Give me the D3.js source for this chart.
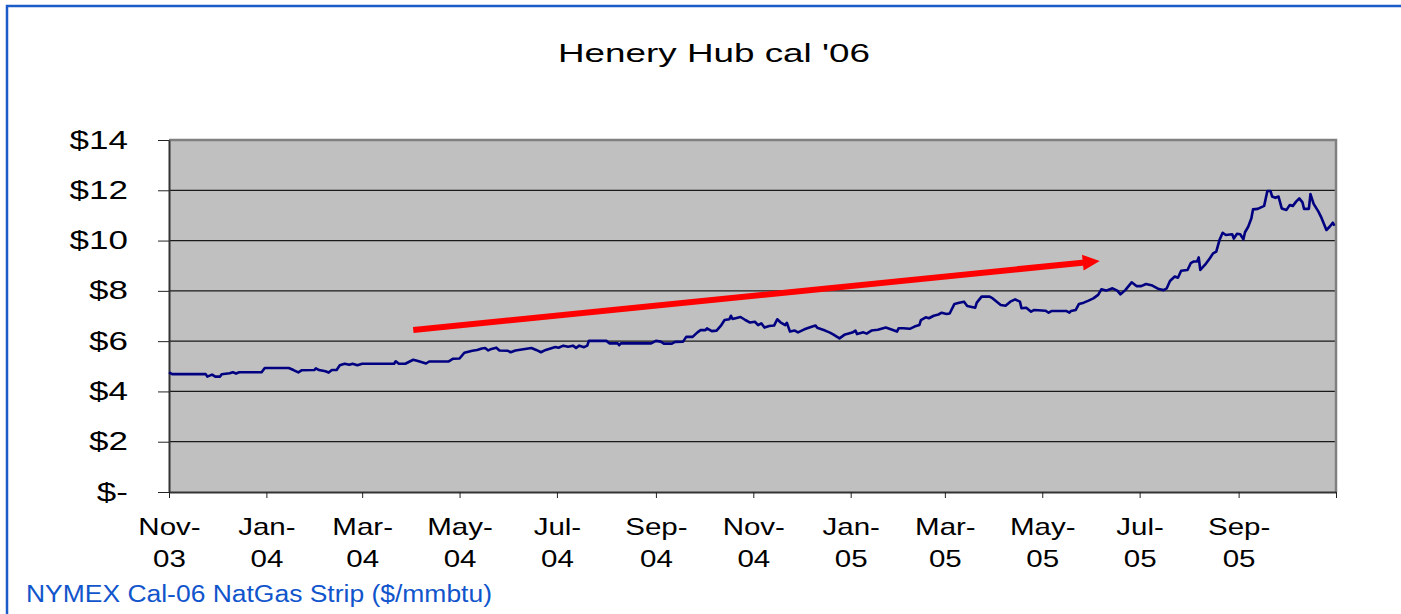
<!DOCTYPE html>
<html>
<head>
<meta charset="utf-8">
<script src="https://cdn.jsdelivr.net/npm/d3@7"></script>
<style>
  html, body { margin: 0; padding: 0; background: #fff; }
  svg { display: block; font-family: "Liberation Sans", Arial, sans-serif; }
</style>
</head>
<body>
<svg id="chart" width="1401" height="614"></svg>
<script>
// NYMEX Cal-06 strip (one row per month)
const tradeDates = [
  "2003-11-01","2003-11-03","2003-11-24","2003-11-25","2003-11-28","2003-11-30",
  "2003-12-03","2003-12-04","2003-12-09","2003-12-11","2003-12-13","2003-12-15","2003-12-29","2003-12-31",
  "2004-01-15","2004-01-18","2004-01-21","2004-01-23","2004-01-31",
  "2004-02-01","2004-02-03","2004-02-07","2004-02-09","2004-02-11","2004-02-14","2004-02-16","2004-02-19","2004-02-22","2004-02-24","2004-02-27",
  "2004-03-01","2004-03-21","2004-03-22","2004-03-24","2004-03-28",
  "2004-04-02","2004-04-06","2004-04-10","2004-04-12","2004-04-24","2004-04-27",
  "2004-05-01","2004-05-04","2004-05-09","2004-05-12","2004-05-15","2004-05-17","2004-05-19","2004-05-21","2004-05-24","2004-05-26","2004-05-31",
  "2004-06-02","2004-06-05","2004-06-15","2004-06-18","2004-06-21","2004-06-24","2004-06-30",
  "2004-07-02","2004-07-05","2004-07-08","2004-07-11","2004-07-13","2004-07-15","2004-07-18","2004-07-20","2004-07-21",
  "2004-08-01","2004-08-03","2004-08-08","2004-08-09","2004-08-10","2004-08-29",
  "2004-09-01","2004-09-04","2004-09-06","2004-09-11","2004-09-13","2004-09-18","2004-09-20","2004-09-24","2004-09-27","2004-09-29",
  "2004-10-02","2004-10-03","2004-10-06","2004-10-09","2004-10-12","2004-10-14","2004-10-17","2004-10-18","2004-10-19","2004-10-24","2004-10-27","2004-10-30",
  "2004-11-02","2004-11-04","2004-11-06","2004-11-08","2004-11-11","2004-11-14","2004-11-16","2004-11-18","2004-11-21","2004-11-22","2004-11-24","2004-11-27","2004-11-29",
  "2004-12-03","2004-12-08","2004-12-10","2004-12-11","2004-12-16","2004-12-19","2004-12-21","2004-12-25","2004-12-28",
  "2005-01-02","2005-01-04","2005-01-05","2005-01-09","2005-01-11","2005-01-14","2005-01-18","2005-01-23","2005-01-27","2005-01-30","2005-01-31",
  "2005-02-03","2005-02-07","2005-02-10","2005-02-13","2005-02-14","2005-02-17","2005-02-19","2005-02-22","2005-02-25","2005-02-27",
  "2005-03-02","2005-03-04","2005-03-07","2005-03-10","2005-03-13","2005-03-15","2005-03-20","2005-03-21","2005-03-24","2005-03-29","2005-03-31",
  "2005-04-05","2005-04-08","2005-04-11","2005-04-14","2005-04-17","2005-04-18","2005-04-21","2005-04-24","2005-04-26",
  "2005-05-03","2005-05-05","2005-05-07","2005-05-16","2005-05-18","2005-05-19","2005-05-22","2005-05-24","2005-05-27","2005-05-30",
  "2005-06-02","2005-06-05","2005-06-07","2005-06-10","2005-06-14","2005-06-17","2005-06-19","2005-06-22","2005-06-26","2005-06-29",
  "2005-07-02","2005-07-05","2005-07-09","2005-07-13","2005-07-16","2005-07-18","2005-07-20","2005-07-23","2005-07-25","2005-07-27","2005-07-31",
  "2005-08-02","2005-08-04","2005-08-06","2005-08-07","2005-08-08","2005-08-11","2005-08-14","2005-08-16","2005-08-18","2005-08-20","2005-08-22","2005-08-24","2005-08-28","2005-08-29","2005-08-31",
  "2005-09-02","2005-09-04","2005-09-05","2005-09-07","2005-09-09","2005-09-10","2005-09-13","2005-09-17","2005-09-19","2005-09-21","2005-09-22","2005-09-24","2005-09-26","2005-09-28",
  "2005-10-01","2005-10-03","2005-10-05","2005-10-07","2005-10-09","2005-10-11","2005-10-12","2005-10-15","2005-10-16","2005-10-18","2005-10-21","2005-10-23","2005-10-26","2005-10-28","2005-10-30","2005-10-31"
];

const stripPrices = [
  4.76, 4.69, 4.69, 4.59, 4.67, 4.59,
  4.59, 4.68, 4.72, 4.76, 4.71, 4.76, 4.76, 4.93,
  4.93, 4.85, 4.76, 4.84, 4.85,
  4.92, 4.85, 4.80, 4.75, 4.85, 4.85, 5.04, 5.10, 5.06, 5.10, 5.04,
  5.10, 5.10, 5.20, 5.10, 5.10,
  5.26, 5.19, 5.11, 5.19, 5.19, 5.30,
  5.31, 5.54, 5.62, 5.65, 5.71, 5.73, 5.63, 5.69, 5.74, 5.63, 5.62,
  5.56, 5.63, 5.73, 5.65, 5.56, 5.65, 5.77,
  5.74, 5.82, 5.78, 5.82, 5.73, 5.82, 5.76, 5.82, 6.01,
  6.01, 5.91, 5.91, 5.84, 5.91, 5.91,
  6.01, 5.98, 5.90, 5.90, 5.97, 5.98, 6.17, 6.17, 6.35, 6.44,
  6.44, 6.51, 6.40, 6.42, 6.64, 6.84, 6.87, 7.01, 6.88, 6.96, 6.84, 6.74,
  6.77, 6.64, 6.71, 6.54, 6.60, 6.62, 6.87, 6.75, 6.64, 6.73, 6.38, 6.42, 6.35,
  6.47, 6.58, 6.62, 6.53, 6.42, 6.34, 6.27, 6.11, 6.25,
  6.34, 6.42, 6.28, 6.35, 6.30, 6.42, 6.45, 6.54, 6.45, 6.38, 6.51,
  6.51, 6.49, 6.58, 6.64, 6.84, 6.95, 6.91, 7.01, 7.06, 7.13,
  7.08, 7.10, 7.48, 7.53, 7.57, 7.40, 7.33, 7.53, 7.77, 7.77, 7.70,
  7.44, 7.41, 7.57, 7.66, 7.57, 7.31, 7.33, 7.17, 7.24,
  7.21, 7.13, 7.20, 7.20, 7.13, 7.20, 7.24, 7.48, 7.53, 7.61,
  7.70, 7.84, 8.06, 8.01, 8.10, 8.01, 7.86, 8.03, 8.34, 8.19,
  8.19, 8.27, 8.21, 8.07, 8.03, 8.10, 8.39, 8.57, 8.52, 8.80, 8.83,
  9.10, 9.17, 9.17, 9.33, 8.83, 9.04, 9.30, 9.49, 9.56, 10.02, 10.31, 10.22, 10.25, 10.08, 10.27,
  10.25, 10.05, 10.33, 10.55, 10.89, 11.24, 11.26, 11.38, 11.97, 11.97, 11.75, 11.70, 11.75, 11.28,
  11.22, 11.41, 11.38, 11.55, 11.68, 11.52, 11.26, 11.26, 11.85, 11.46, 11.15, 10.89, 10.42, 10.55, 10.71, 10.59
];

const yTicks = [0, 2, 4, 6, 8, 10, 12, 14];
const xTickDates = ["2003-11-01","2004-01-01","2004-03-01","2004-05-01","2004-07-01","2004-09-01",
  "2004-11-01","2005-01-01","2005-03-01","2005-05-01","2005-07-01","2005-09-01","2005-11-01"];

// trend arrow, drawn in data space
const arrowDates = ["2004-04-02", "2005-06-06"];
const arrowValues = [6.44, 9.19];

const chartTitle = "Henery Hub cal '06";
const footnote = "NYMEX Cal-06 NatGas Strip ($/mmbtu)";

const parse = d3.timeParse("%Y-%m-%d");
const data = tradeDates.map((d, i) => ({date: parse(d), v: stripPrices[i]}));

const svg = d3.select("#chart");
const plot = {left: 169, right: 1336, top: 140, bottom: 492};

const x = d3.scaleTime()
  .domain([parse(xTickDates[0]), parse(xTickDates[xTickDates.length - 1])])
  .range([plot.left, plot.right]);
const y = d3.scaleLinear().domain([0, 14]).range([plot.bottom, plot.top]);

// outer frame (only top and left edges show)
svg.append("path")
  .attr("d", `M7,614 V6 H1401`)
  .attr("fill", "none")
  .attr("stroke", "#1c5cc8")
  .attr("stroke-width", 2.5);

// title
svg.append("text")
  .attr("x", 714).attr("y", 62)
  .attr("text-anchor", "middle")
  .attr("font-size", 25)
  .attr("textLength", 312)
  .attr("lengthAdjust", "spacingAndGlyphs")
  .text(chartTitle);

// plot background
svg.append("rect")
  .attr("x", plot.left).attr("y", plot.top)
  .attr("width", plot.right - plot.left).attr("height", plot.bottom - plot.top)
  .attr("fill", "#c0c0c0");

// gridlines
svg.append("g")
  .selectAll("line")
  .data(yTicks.filter(t => t > 0 && t < 14))
  .join("line")
  .attr("x1", plot.left).attr("x2", plot.right)
  .attr("y1", d => y(d)).attr("y2", d => y(d))
  .attr("stroke", "#1a1a1a")
  .attr("stroke-width", 1.2);

// grey top/right border of plot area
svg.append("path")
  .attr("d", `M${plot.left},${plot.top} H${plot.right} V${plot.bottom}`)
  .attr("fill", "none")
  .attr("stroke", "#808080")
  .attr("stroke-width", 2.5);

// y axis
const yAxis = svg.append("g")
  .attr("transform", `translate(${plot.left},0)`)
  .call(d3.axisLeft(y).tickValues(yTicks).tickSize(11).tickSizeOuter(0)
    .tickFormat(d => d === 0 ? "$-" : "$" + d));
yAxis.select(".domain").attr("stroke", "#333").attr("stroke-width", 2);
yAxis.selectAll(".tick line").attr("stroke", "#222");
yAxis.selectAll(".tick text")
  .attr("x", null)
  .attr("transform", "translate(-41,0) scale(1.4,1)")
  .attr("font-size", 25)
  .attr("fill", "#000");

// x axis with two-line month labels
const xAxis = svg.append("g")
  .attr("transform", `translate(0,${plot.bottom})`)
  .call(d3.axisBottom(x).tickValues(xTickDates.map(parse)).tickSize(6).tickSizeOuter(0).tickFormat(""));
xAxis.select(".domain").attr("stroke", "#333").attr("stroke-width", 2);
xAxis.selectAll(".tick line").attr("stroke", "#222");
const lastTick = +parse(xTickDates[xTickDates.length - 1]);
xAxis.selectAll(".tick text").each(function(d) {
  const t = d3.select(this).text(null).attr("y", null).attr("dy", null)
    .attr("font-size", 24).attr("fill", "#000")
    .attr("transform", "scale(1.23,1)");
  if (+d === lastTick) return;
  t.append("tspan").attr("x", 0).attr("y", 43).text(d3.timeFormat("%b-")(d));
  t.append("tspan").attr("x", 0).attr("y", 75).text(d3.timeFormat("%y")(d));
});

// price line
const line = d3.line()
  .x(d => x(d.date))
  .y(d => y(d.v));
svg.append("path")
  .attr("d", line(data))
  .attr("fill", "none")
  .attr("stroke", "#000080")
  .attr("stroke-width", 2.6)
  .attr("stroke-linejoin", "round");

// red trend arrow
const p0 = [x(parse(arrowDates[0])), y(arrowValues[0])];
const p1 = [x(parse(arrowDates[1])), y(arrowValues[1])];
const ang = Math.atan2(p1[1] - p0[1], p1[0] - p0[0]);
const headLen = 17, headHalf = 8;
const ux = Math.cos(ang), uy = Math.sin(ang);
const base = [p1[0] - headLen * ux, p1[1] - headLen * uy];
svg.append("line")
  .attr("x1", p0[0]).attr("y1", p0[1])
  .attr("x2", base[0] + 2 * ux).attr("y2", base[1] + 2 * uy)
  .attr("stroke", "#ff0000")
  .attr("stroke-width", 6);
svg.append("path")
  .attr("d", d3.line()([
    p1,
    [base[0] - headHalf * uy, base[1] + headHalf * ux],
    [base[0] + headHalf * uy, base[1] - headHalf * ux]
  ]) + "Z")
  .attr("fill", "#ff0000");

// footnote
svg.append("text")
  .attr("x", 26).attr("y", 602)
  .attr("font-size", 23)
  .attr("fill", "#1155cc")
  .attr("textLength", 466)
  .attr("lengthAdjust", "spacingAndGlyphs")
  .text(footnote);
</script>
</body>
</html>
